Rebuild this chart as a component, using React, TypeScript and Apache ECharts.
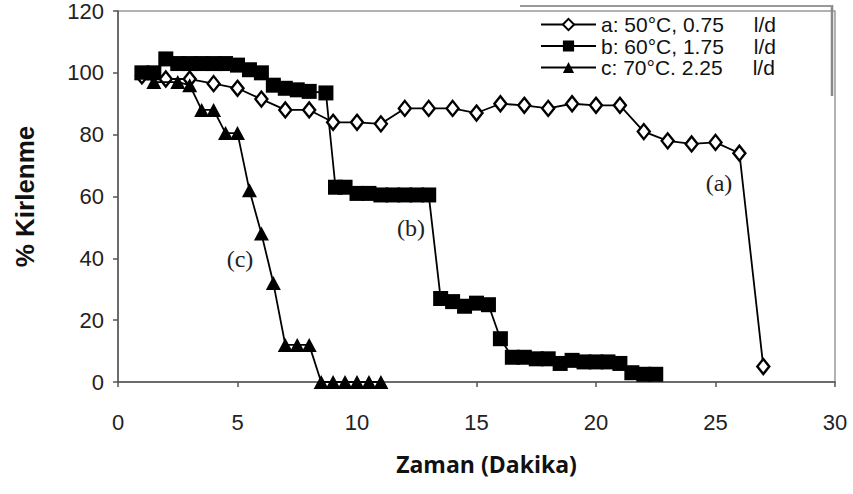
import React, { useEffect, useRef } from "react";
import * as echarts from "echarts";

const legendNames = ["a: 50°C, 0.75", "b: 60°C, 1.75", "c: 70°C. 2.25"];
const legendUnit = "l/d";
const xTitle = "Zaman (Dakika)";
const yTitle = "% Kirlenme";

const seriesA: [number, number][] = [
  [1, 99], [2, 98], [3, 98], [4, 96.5], [5, 95], [6, 91.5], [7, 88], [8, 88],
  [9, 84], [10, 84], [11, 83.5], [12, 88.5], [13, 88.5], [14, 88.5], [15, 87],
  [16, 90], [17, 89.5], [18, 88.5], [19, 90], [20, 89.5], [21, 89.5], [22, 81],
  [23, 78], [24, 77], [25, 77.5], [26, 74], [27, 5],
];

const seriesB: [number, number][] = [
  [1, 100], [1.5, 100], [2, 104.5], [2.5, 103], [3, 103], [3.5, 103], [4, 103],
  [4.5, 103], [5, 102.5], [5.5, 101], [6, 100], [6.5, 96], [7, 95], [7.5, 94.5],
  [8, 94], [8.7, 93.5], [9.1, 63], [9.5, 63], [10, 61], [10.5, 61], [11, 60.5],
  [11.5, 60.5], [12, 60.5], [12.5, 60.5], [13, 60.5], [13.5, 27], [14, 26],
  [14.5, 24.5], [15, 25.5], [15.5, 25], [16, 14], [16.5, 8], [17, 8], [17.5, 7.5],
  [18, 7.5], [18.5, 6], [19, 7], [19.5, 6.5], [20, 6.5], [20.5, 6.5], [21, 6],
  [21.5, 3], [22, 2.5], [22.5, 2.5],
];

const seriesC: [number, number][] = [
  [1, 100], [1.5, 97], [2.5, 97], [3, 96], [3.5, 88], [4, 88], [4.5, 80.5],
  [5, 80.5], [5.5, 62], [6, 48], [6.5, 32], [7, 12], [7.5, 12], [8, 12],
  [8.5, 0], [9, 0], [9.5, 0], [10, 0], [10.5, 0], [11, 0],
];

const curveLabels = ["(a)", "(b)", "(c)"];

export default function App() {
  const ref = useRef<HTMLDivElement>(null);
  useEffect(() => {
    if (!ref.current) return;
    const chart = echarts.init(ref.current, null, { renderer: "svg" });
    const lineStyle = { color: "#000", width: 1.8 };
    const labelFont = "24px 'Liberation Serif'";
    const option: any = {
      animation: false,
      backgroundColor: "#fff",
      grid: {
        left: 118,
        right: 18,
        top: 10,
        bottom: 112,
        show: true,
        borderColor: "#999",
        borderWidth: 1.5,
      },
      xAxis: {
        type: "value",
        min: 0,
        max: 30,
        interval: 5,
        name: xTitle,
        nameLocation: "middle",
        nameGap: 70,
        nameTextStyle: {
          fontFamily: "Open Sans",
          fontWeight: "bold",
          fontSize: 23,
          color: "#111",
          padding: [0, 0, 0, 20],
        },
        axisLine: { lineStyle: { color: "#555", width: 1.5 } },
        axisTick: { show: true, length: 5, lineStyle: { color: "#555", width: 1.5 } },
        axisLabel: {
          margin: 29,
          fontFamily: "Liberation Sans",
          fontSize: 22,
          color: "#222",
        },
        splitLine: { show: false },
      },
      yAxis: {
        type: "value",
        min: 0,
        max: 120,
        interval: 20,
        name: yTitle,
        nameLocation: "middle",
        nameGap: 80,
        nameTextStyle: {
          fontFamily: "Liberation Sans",
          fontWeight: "bold",
          fontSize: 26,
          color: "#111",
        },
        axisLine: { show: true, lineStyle: { color: "#555", width: 1.5 } },
        axisTick: { show: true, length: 5, lineStyle: { color: "#555", width: 1.5 } },
        axisLabel: {
          margin: 14,
          fontFamily: "Liberation Sans",
          fontSize: 22,
          color: "#222",
        },
        splitLine: { show: false },
      },
      legend: {
        show: true,
        orient: "vertical",
        left: 540,
        top: 14,
        itemWidth: 55,
        itemHeight: 14,
        itemGap: 0.5,
        padding: 0,
        data: legendNames,
        formatter: (name: string) => `{t|${name}}{u|${legendUnit}}`,
        textStyle: {
          rich: {
            t: {
              fontFamily: "Liberation Sans",
              fontSize: 21,
              lineHeight: 24,
              color: "#111",
            },
            u: {
              fontFamily: "Liberation Sans",
              fontSize: 21,
              lineHeight: 24,
              color: "#111",
              padding: [0, 0, 0, 30],
            },
          },
        },
      },
      graphic: [
        {
          type: "line",
          shape: { x1: 832, y1: 5, x2: 832, y2: 96 },
          style: { stroke: "#888", lineWidth: 2.5 },
        },
        {
          type: "line",
          shape: { x1: 520, y1: 6, x2: 832, y2: 6 },
          style: { stroke: "#999", lineWidth: 2 },
        },
        {
          type: "text",
          x: 719,
          y: 183,
          style: {
            text: curveLabels[0],
            font: labelFont,
            fill: "#222",
            align: "center",
            verticalAlign: "middle",
          },
        },
        {
          type: "text",
          x: 411,
          y: 228,
          style: {
            text: curveLabels[1],
            font: labelFont,
            fill: "#222",
            align: "center",
            verticalAlign: "middle",
          },
        },
        {
          type: "text",
          x: 240,
          y: 259,
          style: {
            text: curveLabels[2],
            font: labelFont,
            fill: "#222",
            align: "center",
            verticalAlign: "middle",
          },
        },
      ],
      series: [
        {
          name: legendNames[0],
          type: "line",
          data: seriesA,
          symbol: "diamond",
          symbolSize: [12, 15],
          itemStyle: { color: "#fff", borderColor: "#000", borderWidth: 2.4 },
          lineStyle,
          z: 4,
        },
        {
          name: legendNames[1],
          type: "line",
          data: seriesB,
          symbol: "rect",
          symbolSize: 15,
          itemStyle: { color: "#000" },
          lineStyle,
          z: 3,
        },
        {
          name: legendNames[2],
          type: "line",
          data: seriesC,
          symbol: "triangle",
          symbolSize: [15, 14],
          itemStyle: { color: "#000" },
          lineStyle,
          z: 5,
        },
      ],
    };
    chart.setOption(option);
    return () => chart.dispose();
  }, []);
  return (
    <div
      ref={ref}
      style={{ position: "fixed", left: 0, top: 0, width: 853, height: 494 }}
    />
  );
}
